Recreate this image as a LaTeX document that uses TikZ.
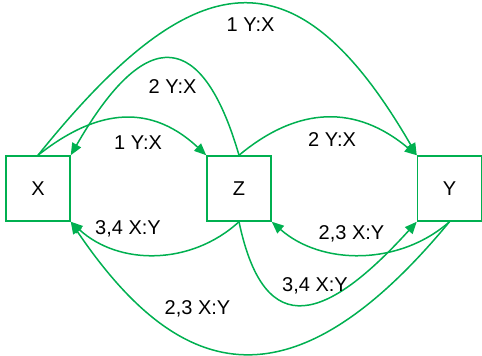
\documentclass[tikz,border=0pt]{standalone}
\usepackage{fontspec}
\setmainfont{Liberation Sans}
\usetikzlibrary{arrows.meta}
\definecolor{lg}{RGB}{0,176,80}
\begin{document}
\begin{tikzpicture}[x=1pt,y=1pt,
  box/.style={draw=lg, line width=1.5pt, minimum width=64pt, minimum height=65pt, inner sep=0pt, font=\fontsize{20}{24}\selectfont},
  conn/.style={draw=lg, line width=1.5pt, -{Triangle[length=12pt,width=10pt]}},
  lbl/.style={font=\fontsize{20}{24}\selectfont, anchor=base, inner sep=0pt}]
\useasboundingbox (0,0) rectangle (482,356);
\node[box] (X) at (38,167.5) {X};
\node[box] (Z) at (239,167.5) {Z};
\node[box] (Y) at (449.5,167.5) {Y};
\draw[conn] (X.north) .. controls +(156,194) and +(-121,209) .. (Y.north west);
\draw[conn] (Z.north) .. controls +(-31,107) and +(85,148) .. (X.north east);
\draw[conn] (X.north) .. controls +(53,42) and +(-60,56) .. (Z.north west);
\draw[conn] (Z.north) .. controls +(60,50) and +(-60,50) .. (Y.north west);
\draw[conn] (Z.south) .. controls +(-48,-44) and +(48,-44) .. (X.south east);
\draw[conn] (Y.south) .. controls +(-162,-196) and +(105,-155) .. (X.south east);
\draw[conn] (Y.south) .. controls +(-50,-44) and +(50,-44) .. (Z.south east);
\draw[conn] (Z.south) .. controls +(26,-124) and +(-88,-97) .. (Y.south west);
\node[lbl] (l1) at (250.5,324.3) {1 Y:X};
\node[lbl] (l2) at (172.5,262.7) {2 Y:X};
\node[lbl] (l3) at (138,206) {1 Y:X};
\node[lbl] (l4) at (332,209.3) {2 Y:X};
\node[lbl] (l5) at (128,121) {3,4 X:Y};
\node[lbl] (l6) at (197.5,41) {2,3 X:Y};
\node[lbl] (l7) at (351.5,116.3) {2,3 X:Y};
\node[lbl] (l8) at (315,64.5) {3,4 X:Y};
\end{tikzpicture}
\end{document}
